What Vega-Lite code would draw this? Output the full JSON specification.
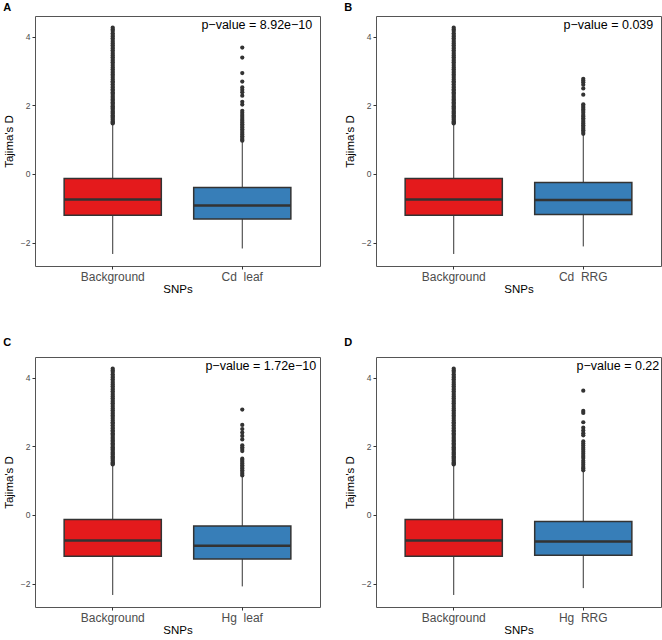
{
  "$schema": "https://vega.github.io/schema/vega-lite/v6.json",
  "padding": {"left": 2, "top": 1, "right": 0, "bottom": 0},
  "background": "white",
  "datasets": {
    "stats": [
      {"panel": "all", "group": "Background", "lower": -2.33, "q1": -1.2, "median": -0.74, "q3": -0.135, "upper": 1.45},
      {"panel": "A", "group": "Cd\u00a0\u00a0leaf", "lower": -2.17, "q1": -1.31, "median": -0.915, "q3": -0.395, "upper": 0.95},
      {"panel": "B", "group": "Cd\u00a0\u00a0RRG", "lower": -2.11, "q1": -1.18, "median": -0.76, "q3": -0.25, "upper": 1.15},
      {"panel": "C", "group": "Hg\u00a0\u00a0leaf", "lower": -2.08, "q1": -1.285, "median": -0.9, "q3": -0.32, "upper": 1.13},
      {"panel": "D", "group": "Hg\u00a0\u00a0RRG", "lower": -2.13, "q1": -1.17, "median": -0.77, "q3": -0.19, "upper": 1.28}
    ],
    "outliers": [
      {"panel": "all", "group": "Background", "value": 1.47}, {"panel": "all", "group": "Background", "value": 1.5},
      {"panel": "all", "group": "Background", "value": 1.53}, {"panel": "all", "group": "Background", "value": 1.57},
      {"panel": "all", "group": "Background", "value": 1.6}, {"panel": "all", "group": "Background", "value": 1.64},
      {"panel": "all", "group": "Background", "value": 1.67}, {"panel": "all", "group": "Background", "value": 1.71},
      {"panel": "all", "group": "Background", "value": 1.75}, {"panel": "all", "group": "Background", "value": 1.78},
      {"panel": "all", "group": "Background", "value": 1.82}, {"panel": "all", "group": "Background", "value": 1.86},
      {"panel": "all", "group": "Background", "value": 1.9}, {"panel": "all", "group": "Background", "value": 1.93},
      {"panel": "all", "group": "Background", "value": 1.97}, {"panel": "all", "group": "Background", "value": 2.01},
      {"panel": "all", "group": "Background", "value": 2.05}, {"panel": "all", "group": "Background", "value": 2.09},
      {"panel": "all", "group": "Background", "value": 2.13}, {"panel": "all", "group": "Background", "value": 2.17},
      {"panel": "all", "group": "Background", "value": 2.21}, {"panel": "all", "group": "Background", "value": 2.25},
      {"panel": "all", "group": "Background", "value": 2.3}, {"panel": "all", "group": "Background", "value": 2.34},
      {"panel": "all", "group": "Background", "value": 2.38}, {"panel": "all", "group": "Background", "value": 2.43},
      {"panel": "all", "group": "Background", "value": 2.47}, {"panel": "all", "group": "Background", "value": 2.52},
      {"panel": "all", "group": "Background", "value": 2.56}, {"panel": "all", "group": "Background", "value": 2.61},
      {"panel": "all", "group": "Background", "value": 2.66}, {"panel": "all", "group": "Background", "value": 2.7},
      {"panel": "all", "group": "Background", "value": 2.75}, {"panel": "all", "group": "Background", "value": 2.8},
      {"panel": "all", "group": "Background", "value": 2.85}, {"panel": "all", "group": "Background", "value": 2.9},
      {"panel": "all", "group": "Background", "value": 2.95}, {"panel": "all", "group": "Background", "value": 3.0},
      {"panel": "all", "group": "Background", "value": 3.05}, {"panel": "all", "group": "Background", "value": 3.1},
      {"panel": "all", "group": "Background", "value": 3.15}, {"panel": "all", "group": "Background", "value": 3.2},
      {"panel": "all", "group": "Background", "value": 3.25}, {"panel": "all", "group": "Background", "value": 3.3},
      {"panel": "all", "group": "Background", "value": 3.35}, {"panel": "all", "group": "Background", "value": 3.4},
      {"panel": "all", "group": "Background", "value": 3.45}, {"panel": "all", "group": "Background", "value": 3.5},
      {"panel": "all", "group": "Background", "value": 3.55}, {"panel": "all", "group": "Background", "value": 3.6},
      {"panel": "all", "group": "Background", "value": 3.65}, {"panel": "all", "group": "Background", "value": 3.7},
      {"panel": "all", "group": "Background", "value": 3.75}, {"panel": "all", "group": "Background", "value": 3.8},
      {"panel": "all", "group": "Background", "value": 3.85}, {"panel": "all", "group": "Background", "value": 3.9},
      {"panel": "all", "group": "Background", "value": 3.95}, {"panel": "all", "group": "Background", "value": 4.0},
      {"panel": "all", "group": "Background", "value": 4.05}, {"panel": "all", "group": "Background", "value": 4.1},
      {"panel": "all", "group": "Background", "value": 4.16}, {"panel": "all", "group": "Background", "value": 4.21},
      {"panel": "all", "group": "Background", "value": 4.26},

      {"panel": "A", "group": "Cd\u00a0\u00a0leaf", "value": 3.68}, {"panel": "A", "group": "Cd\u00a0\u00a0leaf", "value": 3.39},
      {"panel": "A", "group": "Cd\u00a0\u00a0leaf", "value": 2.94}, {"panel": "A", "group": "Cd\u00a0\u00a0leaf", "value": 2.69},
      {"panel": "A", "group": "Cd\u00a0\u00a0leaf", "value": 2.52}, {"panel": "A", "group": "Cd\u00a0\u00a0leaf", "value": 2.45},
      {"panel": "A", "group": "Cd\u00a0\u00a0leaf", "value": 2.38}, {"panel": "A", "group": "Cd\u00a0\u00a0leaf", "value": 2.28},
      {"panel": "A", "group": "Cd\u00a0\u00a0leaf", "value": 2.1}, {"panel": "A", "group": "Cd\u00a0\u00a0leaf", "value": 2.02},
      {"panel": "A", "group": "Cd\u00a0\u00a0leaf", "value": 1.84}, {"panel": "A", "group": "Cd\u00a0\u00a0leaf", "value": 1.78},
      {"panel": "A", "group": "Cd\u00a0\u00a0leaf", "value": 1.72}, {"panel": "A", "group": "Cd\u00a0\u00a0leaf", "value": 1.66},
      {"panel": "A", "group": "Cd\u00a0\u00a0leaf", "value": 1.6}, {"panel": "A", "group": "Cd\u00a0\u00a0leaf", "value": 1.55},
      {"panel": "A", "group": "Cd\u00a0\u00a0leaf", "value": 1.5}, {"panel": "A", "group": "Cd\u00a0\u00a0leaf", "value": 1.45},
      {"panel": "A", "group": "Cd\u00a0\u00a0leaf", "value": 1.4}, {"panel": "A", "group": "Cd\u00a0\u00a0leaf", "value": 1.35},
      {"panel": "A", "group": "Cd\u00a0\u00a0leaf", "value": 1.3}, {"panel": "A", "group": "Cd\u00a0\u00a0leaf", "value": 1.25},
      {"panel": "A", "group": "Cd\u00a0\u00a0leaf", "value": 1.2}, {"panel": "A", "group": "Cd\u00a0\u00a0leaf", "value": 1.15},
      {"panel": "A", "group": "Cd\u00a0\u00a0leaf", "value": 1.1}, {"panel": "A", "group": "Cd\u00a0\u00a0leaf", "value": 1.05},
      {"panel": "A", "group": "Cd\u00a0\u00a0leaf", "value": 1.0}, {"panel": "A", "group": "Cd\u00a0\u00a0leaf", "value": 0.97},

      {"panel": "B", "group": "Cd\u00a0\u00a0RRG", "value": 2.77}, {"panel": "B", "group": "Cd\u00a0\u00a0RRG", "value": 2.72},
      {"panel": "B", "group": "Cd\u00a0\u00a0RRG", "value": 2.67}, {"panel": "B", "group": "Cd\u00a0\u00a0RRG", "value": 2.6},
      {"panel": "B", "group": "Cd\u00a0\u00a0RRG", "value": 2.49}, {"panel": "B", "group": "Cd\u00a0\u00a0RRG", "value": 2.31},
      {"panel": "B", "group": "Cd\u00a0\u00a0RRG", "value": 2.03}, {"panel": "B", "group": "Cd\u00a0\u00a0RRG", "value": 1.98},
      {"panel": "B", "group": "Cd\u00a0\u00a0RRG", "value": 1.93}, {"panel": "B", "group": "Cd\u00a0\u00a0RRG", "value": 1.88},
      {"panel": "B", "group": "Cd\u00a0\u00a0RRG", "value": 1.83}, {"panel": "B", "group": "Cd\u00a0\u00a0RRG", "value": 1.78},
      {"panel": "B", "group": "Cd\u00a0\u00a0RRG", "value": 1.72}, {"panel": "B", "group": "Cd\u00a0\u00a0RRG", "value": 1.67},
      {"panel": "B", "group": "Cd\u00a0\u00a0RRG", "value": 1.62}, {"panel": "B", "group": "Cd\u00a0\u00a0RRG", "value": 1.57},
      {"panel": "B", "group": "Cd\u00a0\u00a0RRG", "value": 1.52}, {"panel": "B", "group": "Cd\u00a0\u00a0RRG", "value": 1.47},
      {"panel": "B", "group": "Cd\u00a0\u00a0RRG", "value": 1.42}, {"panel": "B", "group": "Cd\u00a0\u00a0RRG", "value": 1.37},
      {"panel": "B", "group": "Cd\u00a0\u00a0RRG", "value": 1.32}, {"panel": "B", "group": "Cd\u00a0\u00a0RRG", "value": 1.27},
      {"panel": "B", "group": "Cd\u00a0\u00a0RRG", "value": 1.22}, {"panel": "B", "group": "Cd\u00a0\u00a0RRG", "value": 1.17},

      {"panel": "C", "group": "Hg\u00a0\u00a0leaf", "value": 3.07}, {"panel": "C", "group": "Hg\u00a0\u00a0leaf", "value": 2.62},
      {"panel": "C", "group": "Hg\u00a0\u00a0leaf", "value": 2.5}, {"panel": "C", "group": "Hg\u00a0\u00a0leaf", "value": 2.4},
      {"panel": "C", "group": "Hg\u00a0\u00a0leaf", "value": 2.3}, {"panel": "C", "group": "Hg\u00a0\u00a0leaf", "value": 2.2},
      {"panel": "C", "group": "Hg\u00a0\u00a0leaf", "value": 2.03}, {"panel": "C", "group": "Hg\u00a0\u00a0leaf", "value": 1.97},
      {"panel": "C", "group": "Hg\u00a0\u00a0leaf", "value": 1.92}, {"panel": "C", "group": "Hg\u00a0\u00a0leaf", "value": 1.86},
      {"panel": "C", "group": "Hg\u00a0\u00a0leaf", "value": 1.64}, {"panel": "C", "group": "Hg\u00a0\u00a0leaf", "value": 1.6},
      {"panel": "C", "group": "Hg\u00a0\u00a0leaf", "value": 1.55}, {"panel": "C", "group": "Hg\u00a0\u00a0leaf", "value": 1.5},
      {"panel": "C", "group": "Hg\u00a0\u00a0leaf", "value": 1.45}, {"panel": "C", "group": "Hg\u00a0\u00a0leaf", "value": 1.4},
      {"panel": "C", "group": "Hg\u00a0\u00a0leaf", "value": 1.35}, {"panel": "C", "group": "Hg\u00a0\u00a0leaf", "value": 1.3},
      {"panel": "C", "group": "Hg\u00a0\u00a0leaf", "value": 1.25}, {"panel": "C", "group": "Hg\u00a0\u00a0leaf", "value": 1.2},
      {"panel": "C", "group": "Hg\u00a0\u00a0leaf", "value": 1.15},

      {"panel": "D", "group": "Hg\u00a0\u00a0RRG", "value": 3.62}, {"panel": "D", "group": "Hg\u00a0\u00a0RRG", "value": 3.03},
      {"panel": "D", "group": "Hg\u00a0\u00a0RRG", "value": 2.97}, {"panel": "D", "group": "Hg\u00a0\u00a0RRG", "value": 2.7},
      {"panel": "D", "group": "Hg\u00a0\u00a0RRG", "value": 2.54}, {"panel": "D", "group": "Hg\u00a0\u00a0RRG", "value": 2.46},
      {"panel": "D", "group": "Hg\u00a0\u00a0RRG", "value": 2.38}, {"panel": "D", "group": "Hg\u00a0\u00a0RRG", "value": 2.32},
      {"panel": "D", "group": "Hg\u00a0\u00a0RRG", "value": 2.14}, {"panel": "D", "group": "Hg\u00a0\u00a0RRG", "value": 2.08},
      {"panel": "D", "group": "Hg\u00a0\u00a0RRG", "value": 2.02}, {"panel": "D", "group": "Hg\u00a0\u00a0RRG", "value": 1.96},
      {"panel": "D", "group": "Hg\u00a0\u00a0RRG", "value": 1.9}, {"panel": "D", "group": "Hg\u00a0\u00a0RRG", "value": 1.84},
      {"panel": "D", "group": "Hg\u00a0\u00a0RRG", "value": 1.78}, {"panel": "D", "group": "Hg\u00a0\u00a0RRG", "value": 1.72},
      {"panel": "D", "group": "Hg\u00a0\u00a0RRG", "value": 1.66}, {"panel": "D", "group": "Hg\u00a0\u00a0RRG", "value": 1.58},
      {"panel": "D", "group": "Hg\u00a0\u00a0RRG", "value": 1.52}, {"panel": "D", "group": "Hg\u00a0\u00a0RRG", "value": 1.46},
      {"panel": "D", "group": "Hg\u00a0\u00a0RRG", "value": 1.4}, {"panel": "D", "group": "Hg\u00a0\u00a0RRG", "value": 1.35},
      {"panel": "D", "group": "Hg\u00a0\u00a0RRG", "value": 1.3}
    ],
    "pvals": [
      {"panel": "A", "label": "p−value = 8.92e−10"},
      {"panel": "B", "label": "p−value = 0.039"},
      {"panel": "C", "label": "p−value = 1.72e−10"},
      {"panel": "D", "label": "p−value = 0.22"}
    ]
  },
  "columns": 2,
  "spacing": {"row": 41, "column": 22},
  "concat": [
    {
      "title": {"text": "A", "offset": 3},
      "width": 285, "height": 250,
      "encoding": {
        "x": {"field": "group", "type": "nominal", "scale": {"domain": ["Background", "Cd\u00a0\u00a0leaf"], "paddingInner": 0.25, "paddingOuter": 0.225}, "axis": {"title": "SNPs"}},
        "y": {"type": "quantitative", "scale": {"domain": [-2.68, 4.6], "nice": false, "zero": false}, "axis": {"title": "Tajima's D", "values": [-2, 0, 2, 4]}}
      },
      "layer": [
        {"data": {"name": "stats"}, "transform": [{"filter": "datum.panel == 'A' || datum.panel == 'all'"}], "mark": {"type": "rule", "color": "#333333", "strokeWidth": 1}, "encoding": {"y": {"field": "lower", "type": "quantitative"}, "y2": {"field": "upper"}}},
        {"data": {"name": "stats"}, "transform": [{"filter": "datum.panel == 'A' || datum.panel == 'all'"}], "mark": {"type": "bar", "stroke": "#333333", "strokeWidth": 1.5}, "encoding": {"y": {"field": "q1", "type": "quantitative"}, "y2": {"field": "q3"}, "fill": {"field": "group", "type": "nominal", "scale": {"domain": ["Background", "Cd\u00a0\u00a0leaf"], "range": ["#E41A1C", "#377EB8"]}, "legend": null}}},
        {"data": {"name": "stats"}, "transform": [{"filter": "datum.panel == 'A' || datum.panel == 'all'"}], "mark": {"type": "tick", "color": "#333333", "thickness": 2.5, "size": 97, "orient": "horizontal", "opacity": 1}, "encoding": {"y": {"field": "median", "type": "quantitative"}}},
        {"data": {"name": "outliers"}, "transform": [{"filter": "datum.panel == 'A' || datum.panel == 'all'"}], "mark": {"type": "point", "filled": true, "color": "#333333", "size": 18, "opacity": 1}, "encoding": {"y": {"field": "value", "type": "quantitative"}}},
        {"data": {"name": "pvals"}, "transform": [{"filter": "datum.panel == 'A'"}], "mark": {"type": "text", "align": "right", "baseline": "middle", "fontSize": 12.5, "dx": 70, "color": "#000000"}, "encoding": {"x": {"datum": "Cd\u00a0\u00a0leaf", "type": "nominal"}, "y": {"datum": 4.35, "type": "quantitative"}, "text": {"field": "label"}}}
      ]
    },
    {
      "title": {"text": "B", "offset": 3},
      "width": 285, "height": 250,
      "encoding": {
        "x": {"field": "group", "type": "nominal", "scale": {"domain": ["Background", "Cd\u00a0\u00a0RRG"], "paddingInner": 0.25, "paddingOuter": 0.225}, "axis": {"title": "SNPs"}},
        "y": {"type": "quantitative", "scale": {"domain": [-2.68, 4.6], "nice": false, "zero": false}, "axis": {"title": "Tajima's D", "values": [-2, 0, 2, 4]}}
      },
      "layer": [
        {"data": {"name": "stats"}, "transform": [{"filter": "datum.panel == 'B' || datum.panel == 'all'"}], "mark": {"type": "rule", "color": "#333333", "strokeWidth": 1}, "encoding": {"y": {"field": "lower", "type": "quantitative"}, "y2": {"field": "upper"}}},
        {"data": {"name": "stats"}, "transform": [{"filter": "datum.panel == 'B' || datum.panel == 'all'"}], "mark": {"type": "bar", "stroke": "#333333", "strokeWidth": 1.5}, "encoding": {"y": {"field": "q1", "type": "quantitative"}, "y2": {"field": "q3"}, "fill": {"field": "group", "type": "nominal", "scale": {"domain": ["Background", "Cd\u00a0\u00a0RRG"], "range": ["#E41A1C", "#377EB8"]}, "legend": null}}},
        {"data": {"name": "stats"}, "transform": [{"filter": "datum.panel == 'B' || datum.panel == 'all'"}], "mark": {"type": "tick", "color": "#333333", "thickness": 2.5, "size": 97, "orient": "horizontal", "opacity": 1}, "encoding": {"y": {"field": "median", "type": "quantitative"}}},
        {"data": {"name": "outliers"}, "transform": [{"filter": "datum.panel == 'B' || datum.panel == 'all'"}], "mark": {"type": "point", "filled": true, "color": "#333333", "size": 18, "opacity": 1}, "encoding": {"y": {"field": "value", "type": "quantitative"}}},
        {"data": {"name": "pvals"}, "transform": [{"filter": "datum.panel == 'B'"}], "mark": {"type": "text", "align": "right", "baseline": "middle", "fontSize": 12.5, "dx": 70, "color": "#000000"}, "encoding": {"x": {"datum": "Cd\u00a0\u00a0RRG", "type": "nominal"}, "y": {"datum": 4.35, "type": "quantitative"}, "text": {"field": "label"}}}
      ]
    },
    {
      "title": {"text": "C", "offset": 9},
      "width": 285, "height": 250,
      "encoding": {
        "x": {"field": "group", "type": "nominal", "scale": {"domain": ["Background", "Hg\u00a0\u00a0leaf"], "paddingInner": 0.25, "paddingOuter": 0.225}, "axis": {"title": "SNPs"}},
        "y": {"type": "quantitative", "scale": {"domain": [-2.68, 4.6], "nice": false, "zero": false}, "axis": {"title": "Tajima's D", "values": [-2, 0, 2, 4]}}
      },
      "layer": [
        {"data": {"name": "stats"}, "transform": [{"filter": "datum.panel == 'C' || datum.panel == 'all'"}], "mark": {"type": "rule", "color": "#333333", "strokeWidth": 1}, "encoding": {"y": {"field": "lower", "type": "quantitative"}, "y2": {"field": "upper"}}},
        {"data": {"name": "stats"}, "transform": [{"filter": "datum.panel == 'C' || datum.panel == 'all'"}], "mark": {"type": "bar", "stroke": "#333333", "strokeWidth": 1.5}, "encoding": {"y": {"field": "q1", "type": "quantitative"}, "y2": {"field": "q3"}, "fill": {"field": "group", "type": "nominal", "scale": {"domain": ["Background", "Hg\u00a0\u00a0leaf"], "range": ["#E41A1C", "#377EB8"]}, "legend": null}}},
        {"data": {"name": "stats"}, "transform": [{"filter": "datum.panel == 'C' || datum.panel == 'all'"}], "mark": {"type": "tick", "color": "#333333", "thickness": 2.5, "size": 97, "orient": "horizontal", "opacity": 1}, "encoding": {"y": {"field": "median", "type": "quantitative"}}},
        {"data": {"name": "outliers"}, "transform": [{"filter": "datum.panel == 'C' || datum.panel == 'all'"}], "mark": {"type": "point", "filled": true, "color": "#333333", "size": 18, "opacity": 1}, "encoding": {"y": {"field": "value", "type": "quantitative"}}},
        {"data": {"name": "pvals"}, "transform": [{"filter": "datum.panel == 'C'"}], "mark": {"type": "text", "align": "right", "baseline": "middle", "fontSize": 12.5, "dx": 74, "color": "#000000"}, "encoding": {"x": {"datum": "Hg\u00a0\u00a0leaf", "type": "nominal"}, "y": {"datum": 4.35, "type": "quantitative"}, "text": {"field": "label"}}}
      ]
    },
    {
      "title": {"text": "D", "offset": 9},
      "width": 285, "height": 250,
      "encoding": {
        "x": {"field": "group", "type": "nominal", "scale": {"domain": ["Background", "Hg\u00a0\u00a0RRG"], "paddingInner": 0.25, "paddingOuter": 0.225}, "axis": {"title": "SNPs"}},
        "y": {"type": "quantitative", "scale": {"domain": [-2.68, 4.6], "nice": false, "zero": false}, "axis": {"title": "Tajima's D", "values": [-2, 0, 2, 4]}}
      },
      "layer": [
        {"data": {"name": "stats"}, "transform": [{"filter": "datum.panel == 'D' || datum.panel == 'all'"}], "mark": {"type": "rule", "color": "#333333", "strokeWidth": 1}, "encoding": {"y": {"field": "lower", "type": "quantitative"}, "y2": {"field": "upper"}}},
        {"data": {"name": "stats"}, "transform": [{"filter": "datum.panel == 'D' || datum.panel == 'all'"}], "mark": {"type": "bar", "stroke": "#333333", "strokeWidth": 1.5}, "encoding": {"y": {"field": "q1", "type": "quantitative"}, "y2": {"field": "q3"}, "fill": {"field": "group", "type": "nominal", "scale": {"domain": ["Background", "Hg\u00a0\u00a0RRG"], "range": ["#E41A1C", "#377EB8"]}, "legend": null}}},
        {"data": {"name": "stats"}, "transform": [{"filter": "datum.panel == 'D' || datum.panel == 'all'"}], "mark": {"type": "tick", "color": "#333333", "thickness": 2.5, "size": 97, "orient": "horizontal", "opacity": 1}, "encoding": {"y": {"field": "median", "type": "quantitative"}}},
        {"data": {"name": "outliers"}, "transform": [{"filter": "datum.panel == 'D' || datum.panel == 'all'"}], "mark": {"type": "point", "filled": true, "color": "#333333", "size": 18, "opacity": 1}, "encoding": {"y": {"field": "value", "type": "quantitative"}}},
        {"data": {"name": "pvals"}, "transform": [{"filter": "datum.panel == 'D'"}], "mark": {"type": "text", "align": "right", "baseline": "middle", "fontSize": 12.5, "dx": 76, "color": "#000000"}, "encoding": {"x": {"datum": "Hg\u00a0\u00a0RRG", "type": "nominal"}, "y": {"datum": 4.35, "type": "quantitative"}, "text": {"field": "label"}}}
      ]
    }
  ],
  "resolve": {"scale": {"x": "independent", "fill": "independent"}},
  "config": {
    "font": "Liberation Sans",
    "view": {"stroke": "#555555", "strokeWidth": 1},
    "axis": {"domain": false, "grid": false, "tickColor": "#333333", "tickSize": 3, "labelColor": "#4d4d4d", "titleColor": "#000000", "titleFontWeight": "normal", "labelFont": "Liberation Sans", "titleFont": "Liberation Sans"},
    "axisY": {"labelFontSize": 8.5, "titleFontSize": 11.5, "labelPadding": 2, "titlePadding": 6},
    "axisX": {"labelFontSize": 12, "titleFontSize": 11.5, "labelPadding": 2, "titlePadding": 1, "labelAngle": 0},
    "title": {"fontSize": 11, "fontWeight": "bold", "anchor": "start", "frame": "bounds", "color": "#000000", "font": "Liberation Sans"}
  }
}
